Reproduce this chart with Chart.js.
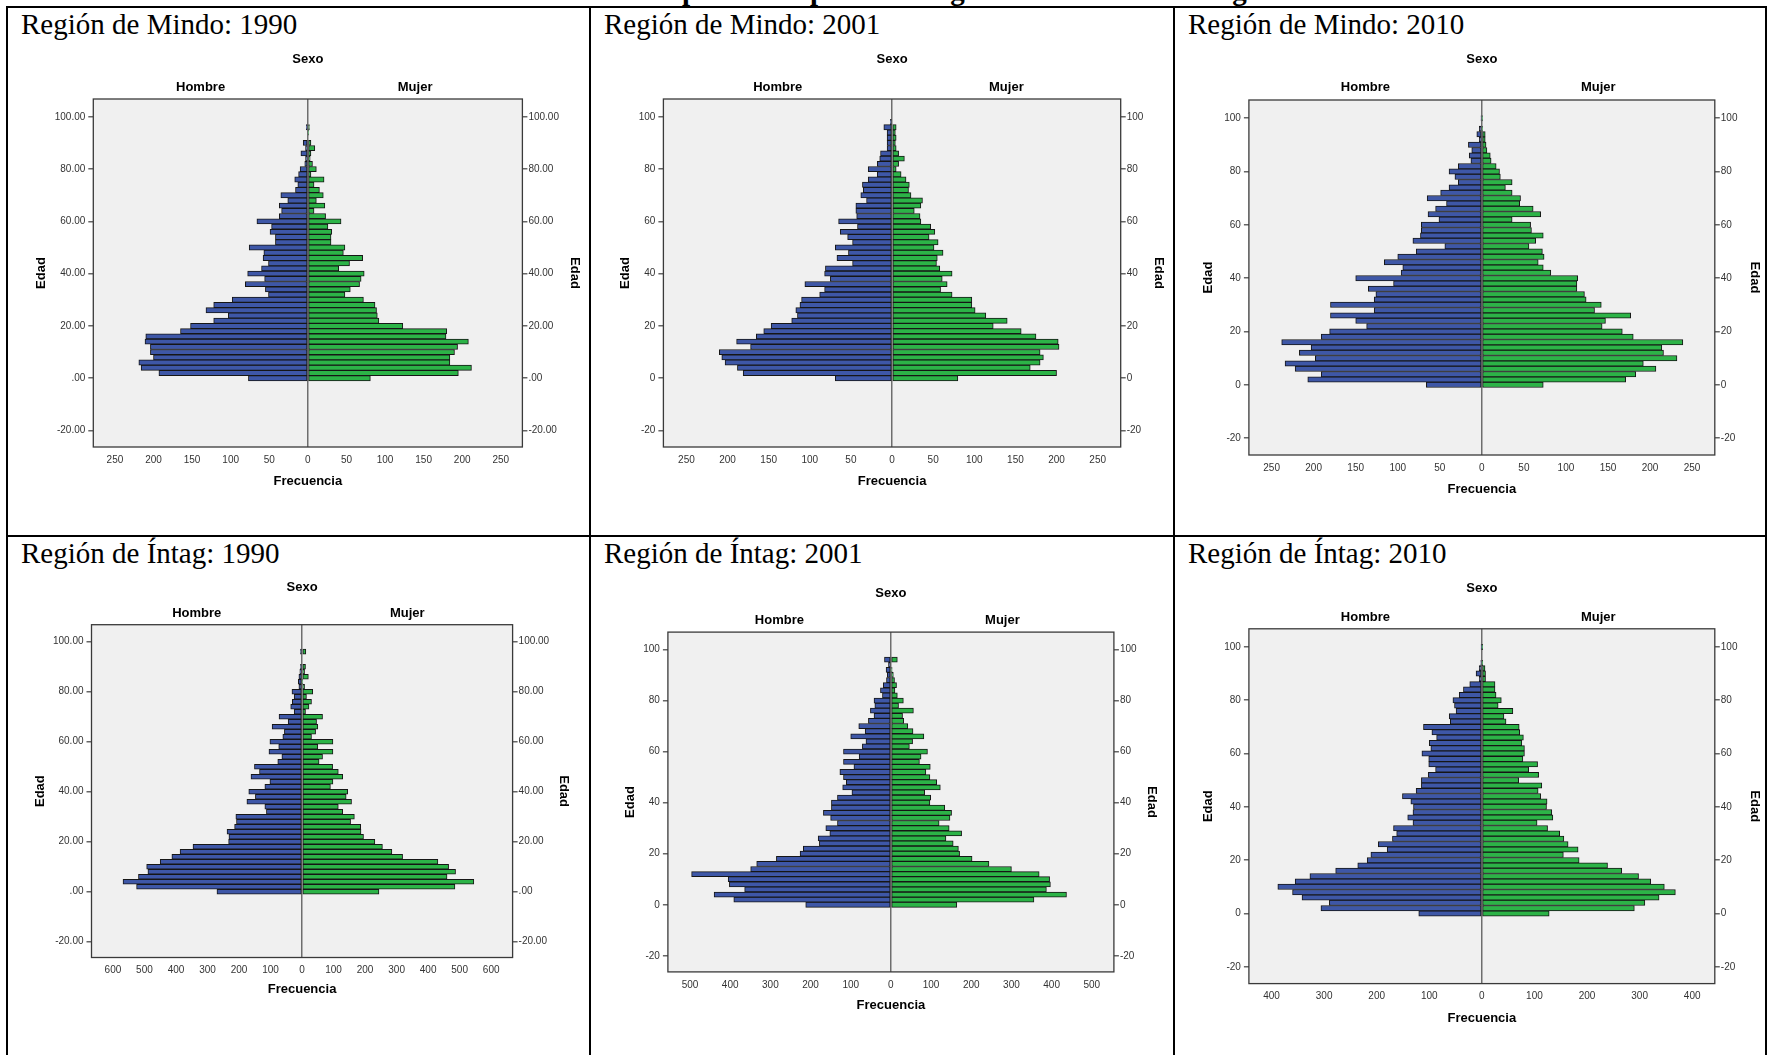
<!DOCTYPE html>
<html>
<head>
<meta charset="utf-8">
<script src="https://cdn.jsdelivr.net/npm/chart.js@4.4.1/dist/chart.umd.min.js"></script>
<style>
html, body { margin: 0; padding: 0; background: #fff; }
body { width: 1769px; height: 1055px; position: relative; overflow: hidden; }
.ln { position: absolute; background: #000; }
.titulo { position: absolute; left: 0; top: -24px; width: 1769px; text-align: center;
  font: bold 29px/29px 'Liberation Serif', 'Times New Roman', serif; white-space: nowrap; }
.celda { position: absolute; font: 29px/29px 'Liberation Serif', 'Times New Roman', serif; white-space: nowrap; }
canvas { position: absolute; }
</style>
</head>
<body>
<div class="titulo">Pirámides de edad de la población para las Regiones de Mindo e Íntag: 1990-2010</div>

<div class="ln" style="left:6px; top:6px; width:1761px; height:2px;"></div>
<div class="ln" style="left:6px; top:535px; width:1761px; height:2px;"></div>
<div class="ln" style="left:6px; top:6px; width:2px; height:1049px;"></div>
<div class="ln" style="left:589px; top:6px; width:2px; height:1049px;"></div>
<div class="ln" style="left:1173px; top:6px; width:2px; height:1049px;"></div>
<div class="ln" style="left:1765px; top:6px; width:2px; height:1049px;"></div>

<div class="celda" style="left:21px; top:10px;">Región de Mindo: 1990</div>
<div class="celda" style="left:604px; top:10px;">Región de Mindo: 2001</div>
<div class="celda" style="left:1188px; top:10px;">Región de Mindo: 2010</div>
<div class="celda" style="left:21px; top:539px;">Región de Íntag: 1990</div>
<div class="celda" style="left:604px; top:539px;">Región de Íntag: 2001</div>
<div class="celda" style="left:1188px; top:539px;">Región de Íntag: 2010</div>

<canvas id="c1"></canvas>
<canvas id="c2"></canvas>
<canvas id="c3"></canvas>
<canvas id="c4"></canvas>
<canvas id="c5"></canvas>
<canvas id="c6"></canvas>

<script>
// ---------------------------------------------------------------- datos

// centro de cada grupo de edad (2 años)
var edades = [0,2,4,6,8,10,12,14,16,18,20,22,24,26,28,30,32,34,36,38,40,42,44,46,48,
              50,52,54,56,58,60,62,64,66,68,70,72,74,76,78,80,82,84,86,88,90,92,94,96,98,100];

var mindo1990Hombre = [77,193,216,219,200,204,204,211,210,165, 152,122,103,132,122,98,51,55,81,56,
                       78,60,51,58,57,76,42,42,49,47, 66,37,34,37,26,35,16,13,17,12, 10,4,3,9,3,6,0,0,2,0, 0];
var mindo1990Mujer  = [81,195,212,184,184,190,194,208,179,180, 123,92,90,89,87,72,48,55,67,69,
                       73,40,54,71,46,48,30,30,31,26, 43,23,8,22,11,20,15,8,21,4, 11,6,3,4,9,4,0,1,2,0, 0];

var mindo2001Hombre = [69,181,188,203,207,210,172,189,165,156, 147,122,115,117,112,110,88,82,106,75,
                       82,81,48,67,53,69,48,54,63,42, 65,43,44,44,31,38,35,36,29,18, 29,18,15,14,6,6,6,6,10,2, 0];
var mindo2001Mujer  = [80,200,168,180,184,180,203,202,175,157, 123,140,114,101,97,97,73,59,67,61,
                       73,58,54,55,62,51,56,45,52,47, 35,34,27,35,37,23,20,21,17,11, 5,8,15,8,5,4,5,4,5,0, 0];

var mindo2010Hombre = [66,207,191,222,234,198,217,203,238,191, 181,137,150,180,128,180,128,126,135,105,
                       150,96,94,116,100,78,44,82,73,72, 72,51,64,55,42,65,49,39,28,32, 39,28,13,15,12,16,3,6,3,0, 1];
var mindo2010Mujer  = [73,171,183,207,192,232,216,214,239,180, 167,143,147,177,134,142,124,122,113,113,
                       114,82,73,67,74,72,56,64,73,59, 58,36,70,61,45,46,36,28,36,22, 21,17,11,10,6,5,4,4,1,0, 1];

var intag1990Hombre = [270,525,568,519,489,493,450,413,387,346, 233,232,238,214,208,210,113,118,175,148,
                       169,118,102,162,135,151,77,64,105,74, 102,61,56,95,44,73,25,36,31,25, 32,10,12,10,7,5,0,0,5,0, 0];
var intag1990Mujer  = [244,485,545,460,487,465,431,319,285,255, 231,195,187,186,154,166,129,115,157,140,
                       145,90,98,129,115,97,54,65,98,50, 98,30,43,50,46,65,11,22,30,14, 34,8,2,20,8,11,0,0,12,0, 0];

var intag2001Hombre = [212,391,440,364,402,405,496,349,334,285, 226,218,178,181,152,162,133,150,168,148,
                       148,133,97,120,111,118,127,92,118,79, 118,71,62,100,64,80,56,42,51,40, 42,21,26,19,11,9,12,6,16,0, 0];
var intag2001Mujer  = [164,356,437,387,397,395,369,300,244,202, 171,168,155,137,176,145,120,147,151,134,
                       97,99,84,123,114,97,87,98,71,75, 91,46,54,82,55,42,32,29,56,19, 31,16,10,14,9,6,3,0,16,0, 0];

var intag2010Hombre = [120,306,290,342,360,388,355,327,278,236, 218,211,180,197,170,162,168,131,141,131,
                       130,135,151,125,115,115,102,88,101,101, 114,97,100,86,95,111,60,62,49,52, 55,43,35,23,5,11,5,2,0,0, 1];
var intag2010Mujer  = [128,290,310,337,368,347,321,298,266,239, 185,155,183,164,156,148,125,105,135,133,
                       123,124,112,107,114,70,108,89,106,78, 81,81,76,79,72,71,46,42,59,31, 37,27,25,25,7,7,6,1,0,0, 1];

// ticks
var edadTicks = [-20, 0, 20, 40, 60, 80, 100];
var edadEtiquetasDec = ['-20.00', '.00', '20.00', '40.00', '60.00', '80.00', '100.00'];
var edadEtiquetas = ['-20', '0', '20', '40', '60', '80', '100'];
var frecTicks250 = [-250,-200,-150,-100,-50,0,50,100,150,200,250];
var frecTicks600 = [-600,-500,-400,-300,-200,-100,0,100,200,300,400,500,600];
var frecTicks500 = [-500,-400,-300,-200,-100,0,100,200,300,400,500];
var frecTicks400 = [-400,-300,-200,-100,0,100,200,300,400];

var series = ['Hombre', 'Mujer'];

// ---------------------------------------------------------------- layout

var AZUL = '#3e57a7';
var VERDE = '#2cb347';
var FUENTE = "'Liberation Sans', Arial, sans-serif";

// box: canvas [x, y, w, h]; area: [left, right, top, bottom] (page px)
var paneles = [
    { id: 'c1', box: [8, 40, 581, 494],    area: [93.3, 522.4, 99, 447],      xmax: 278, xTicks: frecTicks250,
      yEtq: edadEtiquetasDec, h: mindo1990Hombre, m: mindo1990Mujer, edad: 52, frec: 34, sexo: 39.3, sexoSub: 12 },
    { id: 'c2', box: [592, 40, 580, 494],  area: [663.4, 1120.7, 99, 447],    xmax: 278, xTicks: frecTicks250,
      yEtq: edadEtiquetas, h: mindo2001Hombre, m: mindo2001Mujer, edad: 38, frec: 34, sexo: 39.3, sexoSub: 12 },
    { id: 'c3', box: [1176, 40, 588, 494], area: [1248.9, 1714.8, 100, 455],  xmax: 277, xTicks: frecTicks250,
      yEtq: edadEtiquetas, h: mindo2010Hombre, m: mindo2010Mujer, edad: 40, frec: 34.8, sexo: 40.3, sexoSub: 12.3 },
    { id: 'c4', box: [8, 568, 581, 487],   area: [91.5, 512.6, 624.7, 957.5], xmax: 668, xTicks: frecTicks600,
      yEtq: edadEtiquetasDec, h: intag1990Hombre, m: intag1990Mujer, edad: 51, frec: 31.8, sexo: 37, sexoSub: 11 },
    { id: 'c5', box: [592, 568, 580, 487], area: [667.9, 1113.9, 632.1, 971.9], xmax: 555, xTicks: frecTicks500,
      yEtq: edadEtiquetas, h: intag2001Hombre, m: intag2001Mujer, edad: 37.5, frec: 33.5, sexo: 38.5, sexoSub: 11.7 },
    { id: 'c6', box: [1176, 568, 588, 487], area: [1248.9, 1714.8, 628.8, 983.6], xmax: 443, xTicks: frecTicks400,
      yEtq: edadEtiquetas, h: intag2010Hombre, m: intag2010Mujer, edad: 40, frec: 35.2, sexo: 40.2, sexoSub: 11.8 }
];

// ---------------------------------------------------------------- plugin: fondo, marco, cabeceras

var marcoPlugin = {
    id: 'marco',
    beforeDraw: function (chart) {
        var a = chart.chartArea, ctx = chart.ctx;
        ctx.save();
        ctx.fillStyle = '#f0f0f0';
        ctx.fillRect(a.left, a.top, a.right - a.left, a.bottom - a.top);
        ctx.restore();
    },
    afterDraw: function (chart) {
        var a = chart.chartArea, ctx = chart.ctx, p = chart.options.panel;
        ctx.save();
        ctx.strokeStyle = '#3a3a3a';
        ctx.lineWidth = 1.3;
        ctx.strokeRect(a.left, a.top, a.right - a.left, a.bottom - a.top);

        var x0 = chart.scales.x.getPixelForValue(0);
        ctx.fillStyle = '#000';
        ctx.font = 'bold 13px ' + FUENTE;
        ctx.textAlign = 'center';
        ctx.textBaseline = 'middle';
        ctx.fillText('Sexo', x0, a.top - p.sexo);
        ctx.fillText(chart.data.datasets[0].label, (a.left + x0) / 2, a.top - p.sexoSub);
        ctx.fillText(chart.data.datasets[1].label, (x0 + a.right) / 2, a.top - p.sexoSub);
        ctx.restore();
    }
};

// ---------------------------------------------------------------- charts

function piramide(p) {
    var canvas = document.getElementById(p.id);
    if (!canvas) return;
    var bx = p.box[0], by = p.box[1], bw = p.box[2], bh = p.box[3];
    var L = p.area[0], R = p.area[1], T = p.area[2], B = p.area[3];
    canvas.width = bw; canvas.height = bh;
    canvas.style.left = bx + 'px'; canvas.style.top = by + 'px';

    var lh = 13 * 1.2;
    var wL = L - bx, wR = bx + bw - R, hX = by + bh - B;
    var padEdadL = (L - p.edad) - bx - lh / 2;
    var padEdadR = (bx + bw) - (R + p.edad) - lh / 2;
    var padFrec = (by + bh) - (B + p.frec) - lh / 2;

    var barra = {
        grouped: false, barPercentage: 1, categoryPercentage: 1,
        borderWidth: 1, borderColor: '#161616', borderSkipped: false
    };
    var tituloFont = { family: FUENTE, size: 13, weight: 'bold' };
    var tickFont = { family: FUENTE, size: 10 };

    function ejeEdad(pos, pad, ancho) {
        return {
            type: 'linear', position: pos, min: -26.3, max: 106.8, offset: false,
            afterBuildTicks: function (s) { s.ticks = edadTicks.map(function (v) { return { value: v }; }); },
            afterFit: function (s) { s.width = ancho; },
            ticks: {
                autoSkip: false, font: tickFont, color: '#333', padding: pos === 'left' ? 3 : 1,
                callback: function (v, i) { return p.yEtq[i]; }
            },
            grid: { offset: false, drawOnChartArea: false, drawTicks: true, tickLength: 5, color: '#666', lineWidth: 1.5 },
            border: { display: false },
            title: { display: true, text: 'Edad', font: tituloFont, color: '#000', padding: { top: pad, bottom: 0 } }
        };
    }

    return new Chart(canvas, {
        type: 'bar',
        data: {
            datasets: [
                Object.assign({
                    label: series[0], backgroundColor: AZUL,
                    data: edades.map(function (e, i) { return { x: -p.h[i], y: e }; })
                }, barra),
                Object.assign({
                    label: series[1], backgroundColor: VERDE,
                    data: edades.map(function (e, i) { return { x: p.m[i], y: e }; })
                }, barra)
            ]
        },
        options: {
            panel: p,
            indexAxis: 'y',
            responsive: false,
            animation: false,
            devicePixelRatio: 1,
            layout: { padding: { top: T - by, left: 0, right: 0, bottom: 0 } },
            plugins: { legend: { display: false }, tooltip: { enabled: false } },
            scales: {
                x: {
                    type: 'linear', min: -p.xmax, max: p.xmax,
                    afterBuildTicks: function (s) { s.ticks = p.xTicks.map(function (v) { return { value: v }; }); },
                    afterFit: function (s) { s.height = hX; },
                    ticks: {
                        autoSkip: false, maxRotation: 0, font: tickFont, color: '#333', padding: 7,
                        callback: function (v) { return Math.abs(v); }
                    },
                    grid: {
                        drawTicks: false, lineWidth: 1.5,
                        color: function (c) { return c.tick && c.tick.value === 0 ? '#6e6e6e' : 'rgba(0,0,0,0)'; }
                    },
                    border: { display: false },
                    title: { display: true, text: 'Frecuencia', font: tituloFont, color: '#000', padding: { top: 0, bottom: padFrec } }
                },
                y: ejeEdad('left', padEdadL, wL),
                y2: ejeEdad('right', padEdadR, wR)
            }
        },
        plugins: [marcoPlugin]
    });
}

paneles.forEach(piramide);
</script>
</body>
</html>
